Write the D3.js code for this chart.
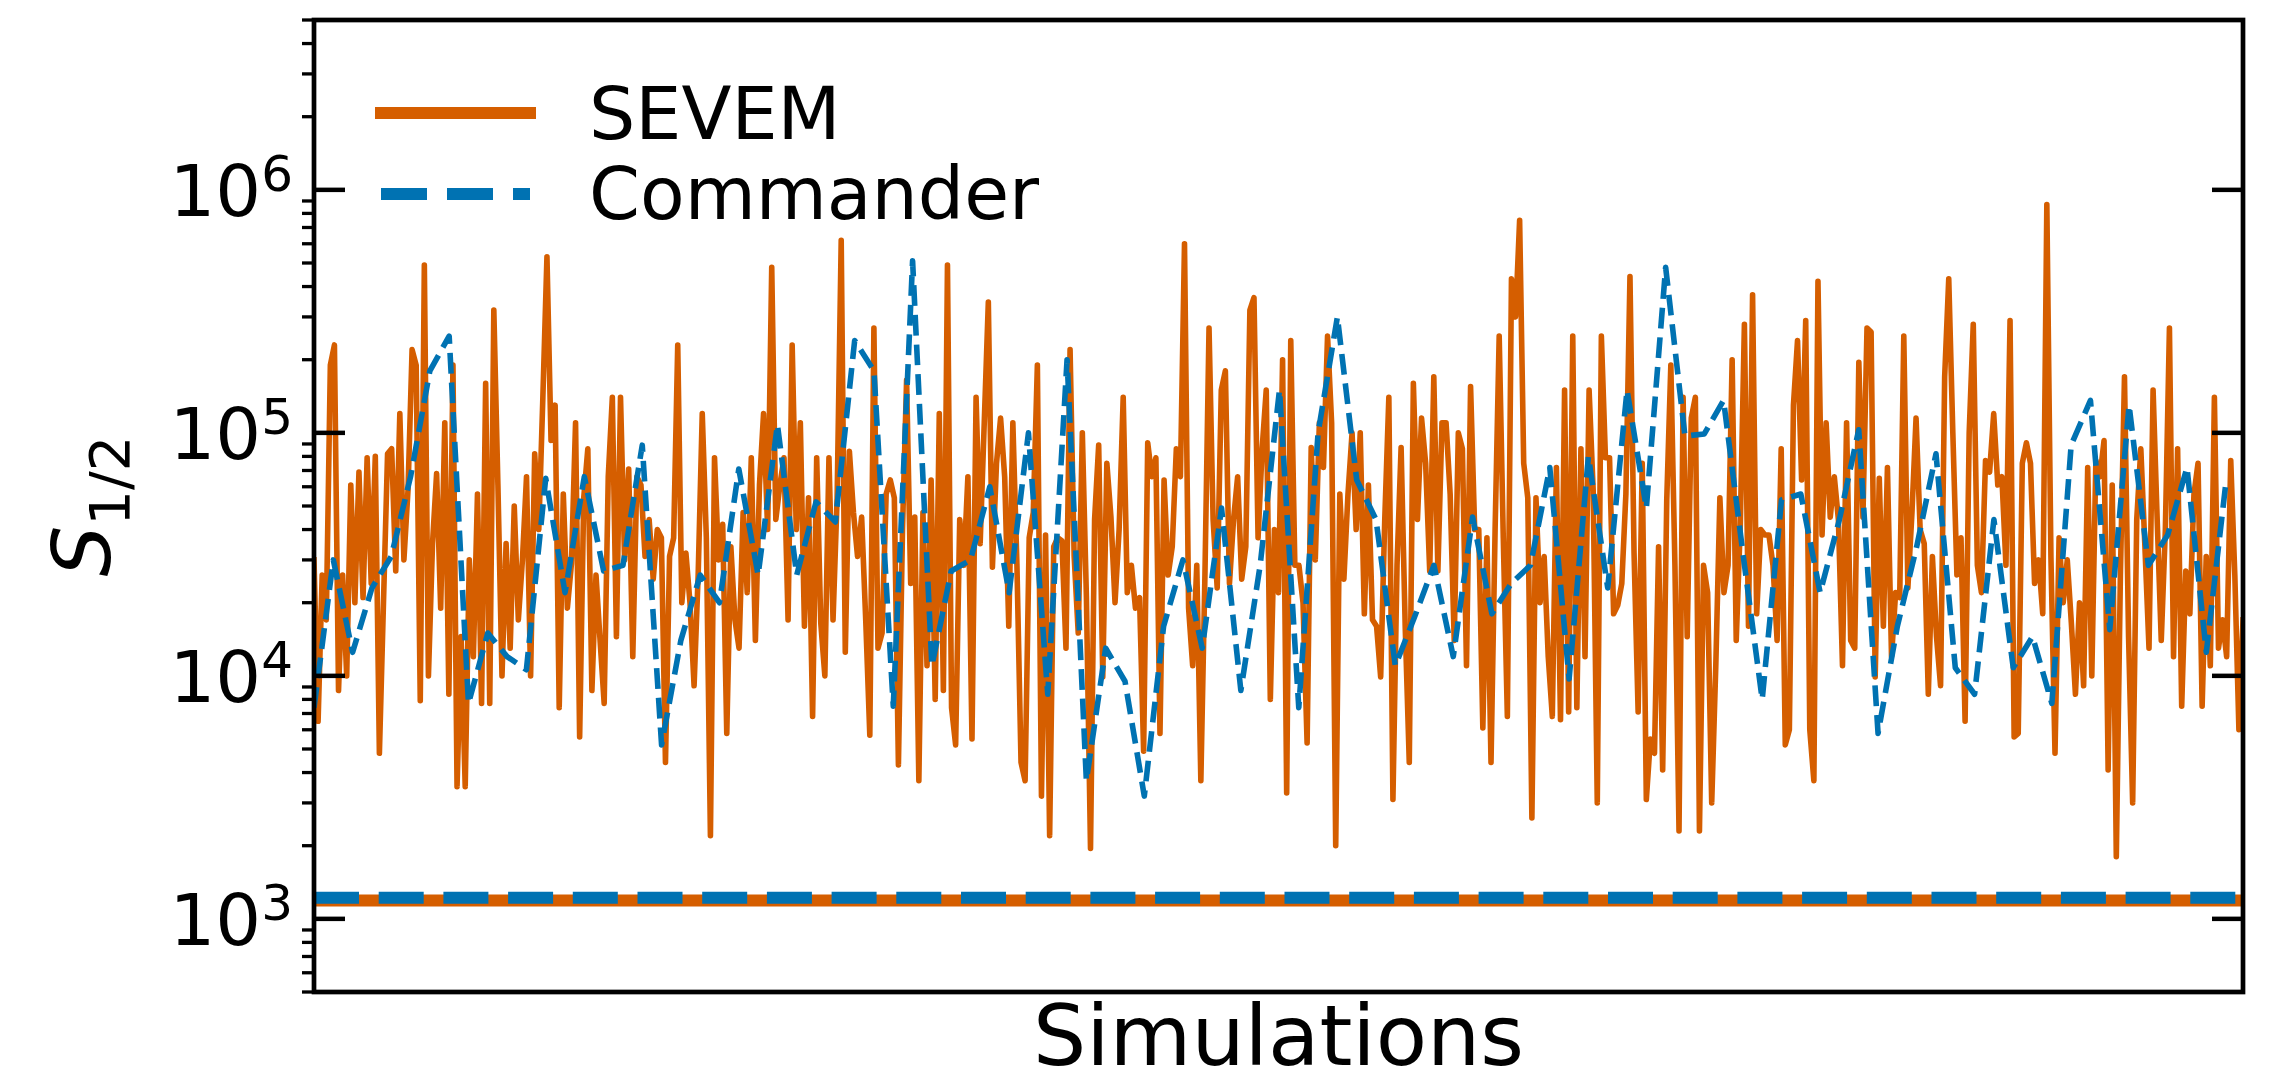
<!DOCTYPE html>
<html>
<head>
<meta charset="utf-8">
<script src="https://cdn.jsdelivr.net/npm/d3@7"></script>
<style>
  body { margin: 0; background: #ffffff; }
  svg { display: block; }
</style>
</head>
<body>
<svg id="chart" width="2271" height="1086"></svg>
<script>
// S_1/2 statistic per simulation, SEVEM maps
const sevem = [
  3.0e4, 6.5e3, 2.6e4, 1.7e4, 1.9e5, 2.3e5, 8.7e3, 2.6e4, 1.0e4,
  6.1e4, 2.0e4, 6.9e4, 2.1e4, 7.9e4, 2.4e4, 8.0e4, 4.8e3, 2.0e4,
  8.2e4, 8.6e4, 2.7e4, 1.2e5, 3.0e4, 5.8e4, 2.2e5, 1.9e5, 7.9e3, 4.9e5,
  1.0e4, 3.5e4, 6.8e4, 1.9e4, 1.1e5, 8.4e3, 1.9e5, 3.5e3, 1.45e4, 3.5e3,
  3.0e4, 1.2e4, 5.6e4, 7.7e3, 1.6e5, 7.7e3, 3.2e5, 6.1e4, 1.0e4, 3.5e4,
  1.3e4, 5.0e4, 1.7e4, 3.0e4, 6.6e4, 1.0e4, 8.2e4, 4.0e4, 1.4e5,
  5.3e5, 9.3e4, 1.3e5, 7.4e3, 5.6e4, 1.9e4, 2.9e4, 1.1e5, 5.6e3, 5.4e4,
  8.6e4, 8.7e3, 2.6e4, 1.4e4, 7.7e3, 6.6e4, 1.4e5, 1.45e4, 1.4e5,
  3.0e4, 7.1e4, 1.2e4, 6.6e4,
  6.1e4, 3.1e4, 4.4e4, 2.5e4, 4.0e4, 3.7e4, 4.4e3, 3.1e4, 3.7e4,
  2.3e5, 2.0e4, 3.2e4, 2.0e4, 9.1e3, 2.6e4, 1.2e5, 3.7e4,
  2.2e3, 7.9e4, 3.0e4, 4.2e4, 5.8e3, 3.4e4, 1.7e4, 1.3e4, 4.7e4, 2.2e4,
  7.9e4, 1.4e4, 6.1e4, 1.2e5, 4.0e4, 4.8e5, 4.4e4, 6.1e4, 7.9e4, 1.7e4,
  2.3e5, 4.0e4, 1.1e5, 1.6e4, 5.4e4, 6.8e3, 7.9e4, 1.65e4, 1.0e4, 7.9e4,
  1.7e4, 5.4e4, 6.2e5, 1.25e4, 8.4e4, 4.7e4, 3.1e4, 4.5e4, 1.7e4, 5.7e3,
  2.7e5, 1.3e4, 1.5e4, 5.6e4, 6.4e4, 5.4e4, 4.3e3, 4.0e4, 1.65e5, 2.4e4,
  4.5e4, 3.7e3, 4.7e4, 1.1e4, 6.4e4, 8.0e3, 1.2e5, 8.7e3,
  4.9e5, 7.4e3, 5.2e3, 4.4e4,
  2.85e4, 6.6e4, 5.5e3, 1.4e5, 3.5e4, 1.1e5, 3.45e5, 2.8e4, 7.5e4, 1.15e5,
  6.6e4, 1.6e4, 1.1e5, 2.85e4, 4.4e3, 3.7e3, 3.7e4, 4.7e4, 1.9e5, 3.2e3,
  3.8e4, 2.2e3, 3.4e4, 3.7e4, 3.6e4, 1.3e4, 2.2e5, 3.1e4, 1.5e4, 1.0e5,
  2.1e4, 1.95e3, 4.4e4, 8.9e4, 9.9e3, 7.5e4, 4.5e4, 2.0e4, 4.0e4, 1.4e5,
  2.2e4, 2.85e4, 1.9e4, 2.1e4, 4.9e3, 9.1e4, 6.6e4, 7.9e4, 5.8e3, 6.4e4,
  2.6e4, 3.4e4, 8.6e4, 6.6e4, 6.0e5, 1.9e4, 1.1e4, 2.85e4, 3.7e3, 2.6e4,
  2.7e5, 4.4e4, 2.3e4, 1.5e5, 1.8e5, 2.4e4, 4.4e4, 6.6e4, 2.5e4, 3.4e4,
  3.2e5, 3.6e5, 3.7e4, 8.6e4, 1.5e5, 8.0e3, 4.0e4, 2.2e4, 2.0e5, 3.3e3,
  2.4e5, 2.85e4, 2.85e4, 2.0e4, 5.3e3, 8.7e4, 3.0e4, 1.1e5, 7.2e4,
  2.5e5, 1.1e5, 2.0e3, 5.6e4, 2.5e4, 5.6e4, 1.0e5, 4.0e4, 1.0e5, 1.8e4,
  6.1e4, 1.7e4, 1.6e4, 9.9e3, 4.4e4, 1.4e5, 3.1e3, 2.85e4, 8.7e4, 1.6e4,
  4.4e3, 1.6e5, 4.4e4, 1.15e5, 7.5e4, 2.7e4, 1.7e5, 2.7e4, 1.1e5, 1.1e5,
  5.6e4, 1.4e4, 1.0e5, 8.6e4, 1.1e4, 1.55e5, 4.0e4, 4.0e4, 6.1e3, 3.7e4,
  4.4e3, 4.0e4, 2.5e5, 3.7e4, 6.8e3, 4.3e5, 3.0e5, 7.5e5, 7.5e4, 5.4e4,
  2.6e3, 5.4e4, 2.0e4, 3.1e4, 1.2e4, 6.8e3, 7.2e4, 6.6e3, 1.5e5, 7.1e3,
  2.5e5, 7.4e3, 8.6e4, 1.2e4, 1.5e5, 5.8e4, 3.0e3, 2.5e5,
  7.9e4, 7.9e4, 1.8e4, 1.95e4, 2.4e4, 5.6e4, 4.4e5, 3.2e4, 7.1e3, 7.5e4,
  3.1e3, 5.5e3, 4.8e3, 3.4e4, 4.1e3, 5.3e4, 1.9e5, 2.85e4, 2.3e3, 1.4e5,
  1.45e4, 1.15e5, 1.4e5, 2.3e3, 2.85e4, 2.2e4, 3.0e3, 1.1e4, 5.4e4, 2.2e4,
  2.85e4, 2.0e5, 1.4e4, 4.2e4, 2.8e5, 1.6e4, 3.7e5, 1.8e4, 4.0e4, 3.8e4,
  3.8e4, 2.85e4, 1.4e4, 8.6e4, 5.2e3, 6.0e3, 1.3e5, 2.4e5, 6.4e4, 2.9e5,
  6.0e3, 3.7e3, 4.2e5, 3.8e4, 1.1e5, 4.5e4, 6.6e4, 4.4e4, 1.1e4, 1.1e5,
  1.4e4, 1.3e4, 1.95e5, 4.5e4, 2.7e5, 2.6e5, 9.9e3, 6.5e4, 1.6e4, 7.2e4,
  1.2e4, 2.2e4, 2.1e4, 2.5e5, 2.3e4, 4.7e4, 1.15e5, 4.0e4,
  3.5e4, 8.4e3, 3.1e4, 1.45e4, 9.1e3, 1.7e5, 4.3e5, 1.0e5, 2.6e4, 3.7e4,
  6.5e3, 1.0e5, 2.8e5, 2.85e4, 2.2e4, 7.7e4, 6.9e4, 1.2e5, 6.1e4, 6.6e4,
  2.85e4, 2.9e5, 5.6e3, 5.8e3, 7.5e4, 9.1e4, 7.5e4, 2.4e4, 3.0e4, 1.8e4,
  8.7e5, 3.1e4, 4.8e3, 3.7e4, 2.0e4, 3.0e4, 1.65e4, 8.4e3, 2.0e4, 9.1e3,
  7.2e4, 1.0e4, 7.7e4, 6.6e4, 9.3e4, 4.1e3, 6.1e4, 1.8e3, 2.6e4, 1.7e5,
  1.45e4, 3.0e3, 4.4e4, 8.6e4, 3.4e4, 1.3e4, 1.5e5, 4.4e4, 1.4e4, 4.0e4,
  2.7e5, 1.2e4, 8.6e4, 7.5e3, 2.7e4, 1.8e4, 5.6e4, 7.5e4, 7.5e3, 3.1e4,
  1.1e4, 1.4e5, 1.3e4, 1.7e4, 1.2e4, 7.7e4, 2.6e4, 6.0e3, 1.7e4
];

// S_1/2 statistic for Commander maps, one entry every 10th simulation
const commander = [
  7.4e3, 3.0e4, 1.25e4, 2.3e4, 3.1e4, 6.6e4, 1.8e5, 2.5e5, 7.7e3, 1.5e4,
  1.2e4, 1.06e4, 6.5e4, 2.2e4, 6.6e4, 2.7e4, 2.85e4, 8.9e4, 5.2e3, 1.4e4,
  2.6e4, 2.0e4, 7.1e4, 2.6e4, 1.08e5, 2.6e4, 5.2e4, 4.3e4, 2.4e5, 1.8e5,
  7.5e3, 5.1e5, 1.1e4, 2.7e4, 3.0e4, 6.0e4, 2.2e4, 1.0e5, 8.4e3, 2.0e5,
  3.7e3, 1.3e4, 9.5e3, 3.2e3, 1.6e4, 3.0e4, 1.3e4, 4.9e4, 8.7e3, 2.85e4,
  1.5e5, 7.4e3, 1.0e5, 3.0e5, 6.4e4, 4.4e4, 1.1e4, 1.75e4, 2.85e4, 1.2e4,
  4.5e4, 1.8e4, 2.4e4, 2.85e4, 7.2e4, 9.7e3, 8.0e4, 2.3e4, 1.5e5, 4.9e4,
  4.8e5, 9.7e4, 9.9e4, 1.36e5, 3.2e4, 8.0e3, 5.3e4, 5.6e4, 2.2e4, 4.4e4,
  1.03e5, 5.8e3, 1.6e4, 3.4e4, 8.2e4, 1.08e4, 8.4e3, 4.4e4, 1.08e4, 1.45e4,
  7.7e3, 8.9e4, 1.36e5, 1.55e4, 1.3e5, 2.85e4, 3.8e4, 7.2e4, 1.25e4, 6.1e4
];
const commanderStep = 10;      // simulation spacing of the Commander entries
const simCount = 1000;         // simulations on the x axis

// Values measured on the observed sky
const observedSevem = 1190;
const observedCommander = 1220;

const seriesNames = ["SEVEM", "Commander"];
const yTickValues = [1e3, 1e4, 1e5, 1e6];
const yTickExponents = ["3", "4", "5", "6"];
const yDomain = [500, 5e6];

const colors = { SEVEM: "#D55E00", Commander: "#0072B2" };
const FONT = "'DejaVu Sans', 'Liberation Sans', sans-serif";

const svg = d3.select("#chart");
const W = 2271, H = 1086;
const margin = { left: 314, right: 28, top: 20, bottom: 94 };
const pw = W - margin.left - margin.right;
const ph = H - margin.top - margin.bottom;

const xSevem = d3.scaleLinear().domain([0, sevem.length - 1]).range([0, pw]);
const xSim = d3.scaleLinear().domain([0, simCount - 1]).range([0, pw]);
const y = d3.scaleLog().domain(yDomain).range([ph, 0]);

svg.append("defs").append("clipPath").attr("id", "plot-clip")
  .append("rect").attr("x", 0).attr("y", 0).attr("width", pw).attr("height", ph);

const g = svg.append("g").attr("transform", `translate(${margin.left},${margin.top})`);
const plot = g.append("g").attr("clip-path", "url(#plot-clip)");

const lineW = 5.6;

// SEVEM simulations
plot.append("path")
  .datum(sevem)
  .attr("fill", "none")
  .attr("stroke", colors.SEVEM)
  .attr("stroke-width", lineW)
  .attr("stroke-linejoin", "round")
  .attr("stroke-linecap", "square")
  .attr("d", d3.line().x((d, i) => xSevem(i)).y(d => y(d)));

// Commander simulations
plot.append("path")
  .datum(commander)
  .attr("fill", "none")
  .attr("stroke", colors.Commander)
  .attr("stroke-width", lineW)
  .attr("stroke-linejoin", "round")
  .attr("stroke-dasharray", `${3.7 * lineW},${1.6 * lineW}`)
  .attr("d", d3.line().x((d, i) => xSim(i * commanderStep)).y(d => y(d)));

// Observed values as horizontal reference lines
const refW = 12;
plot.append("line")
  .attr("x1", 0).attr("x2", pw)
  .attr("y1", y(observedSevem)).attr("y2", y(observedSevem))
  .attr("stroke", colors.SEVEM).attr("stroke-width", refW);
plot.append("line")
  .attr("x1", 0).attr("x2", pw)
  .attr("y1", y(observedCommander)).attr("y2", y(observedCommander))
  .attr("stroke", colors.Commander).attr("stroke-width", refW)
  .attr("stroke-dasharray", "45,19.7");

// Axis frame
g.append("rect")
  .attr("x", 0).attr("y", 0).attr("width", pw).attr("height", ph)
  .attr("fill", "none").attr("stroke", "#000").attr("stroke-width", 4.7);

// Major ticks (inward, both sides)
const majorLen = 31;
yTickValues.forEach(v => {
  const yy = y(v);
  g.append("line").attr("x1", 0).attr("x2", majorLen).attr("y1", yy).attr("y2", yy)
    .attr("stroke", "#000").attr("stroke-width", 4.5);
  g.append("line").attr("x1", pw).attr("x2", pw - majorLen).attr("y1", yy).attr("y2", yy)
    .attr("stroke", "#000").attr("stroke-width", 4.5);
});

// Minor ticks (outward, left side)
const minorTicks = [];
for (let e = 2; e <= 6; e++) {
  for (let m = 2; m <= 9; m++) {
    const v = m * Math.pow(10, e);
    if (v >= yDomain[0] && v <= yDomain[1]) minorTicks.push(v);
  }
}
minorTicks.forEach(v => {
  g.append("line").attr("x1", 0).attr("x2", -12).attr("y1", y(v)).attr("y2", y(v))
    .attr("stroke", "#000").attr("stroke-width", 3.3);
});

// Tick labels 10^n
yTickValues.forEach((v, i) => {
  const t = g.append("text")
    .attr("x", -21)
    .attr("y", y(v) + 26)
    .attr("text-anchor", "end")
    .style("font-family", FONT)
    .style("font-size", "72px")
    .attr("fill", "#000");
  t.append("tspan").text("10");
  t.append("tspan").attr("dy", -25).style("font-size", "50px").text(yTickExponents[i]);
});

// Axis titles
svg.append("text")
  .attr("x", margin.left + pw / 2)
  .attr("y", 1065)
  .attr("text-anchor", "middle")
  .style("font-family", FONT)
  .style("font-size", "84px")
  .attr("fill", "#000")
  .text("Simulations");

const yl = svg.append("text")
  .attr("transform", `translate(110,${margin.top + ph / 2}) rotate(-90)`)
  .attr("text-anchor", "middle")
  .style("font-family", FONT)
  .attr("fill", "#000");
yl.append("tspan").style("font-size", "80px").style("font-style", "italic").text("S");
yl.append("tspan").attr("dy", 19).style("font-size", "56px").text("1/2");

// Legend
const legend = svg.append("g");
const legendRows = [
  { name: seriesNames[0], y: 113, textY: 139 },
  { name: seriesNames[1], y: 194, textY: 219 }
];
legendRows.forEach(r => {
  const ln = legend.append("line")
    .attr("x1", 381).attr("x2", 530)
    .attr("y1", r.y).attr("y2", r.y)
    .attr("stroke", colors[r.name])
    .attr("stroke-width", refW);
  if (r.name === "SEVEM") ln.attr("stroke-linecap", "square");
  else ln.attr("stroke-dasharray", "46,20");
  legend.append("text")
    .attr("x", 589).attr("y", r.textY)
    .style("font-family", FONT)
    .style("font-size", "73px")
    .attr("fill", "#000")
    .text(r.name);
});
</script>
</body>
</html>
